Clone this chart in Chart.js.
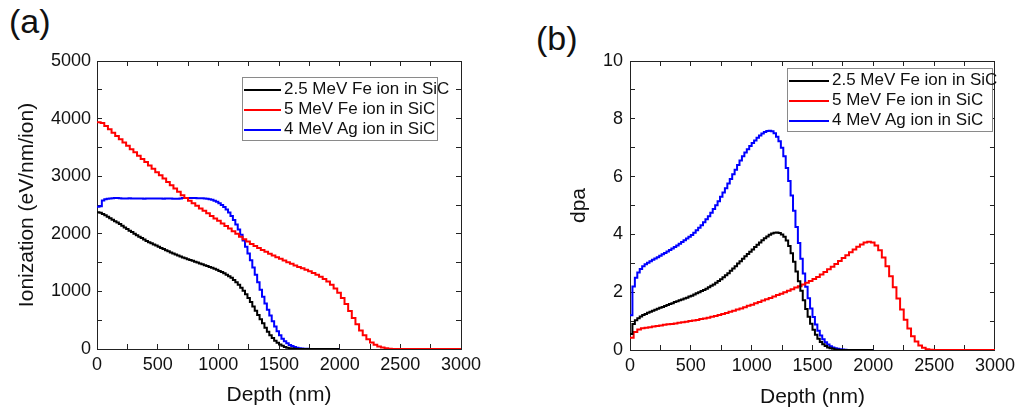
<!DOCTYPE html>
<html>
<head>
<meta charset="utf-8">
<script src="https://cdn.jsdelivr.net/npm/chart.js@4.4.1/dist/chart.umd.min.js"></script>
<style>
  body { margin: 0; background: #fff; width: 1025px; height: 410px; position: relative; overflow: hidden;
         font-family: "Liberation Sans", Arial, sans-serif; color: #111; }
  canvas { position: absolute; top: 0; }
  .tag { position: absolute; font-size: 34px; line-height: 34px; }
  .legend { position: absolute; border: 1px solid #8a8a8a; background: #fff; padding: 1px 0 1px 1px; font-size: 17px; }
  .legend div { height: 20px; line-height: 20px; white-space: nowrap; }
  .legend .swatch { display: inline-block; height: 2px; vertical-align: middle; margin-right: 3px; }
</style>
</head>
<body>
<div class="tag" style="left:9px; top:4px;">(a)</div>
<div class="tag" style="left:536px; top:21px;">(b)</div>
<canvas id="ionChart" width="512" height="410" style="left:0px;"></canvas>
<canvas id="dpaChart" width="512" height="410" style="left:513px;"></canvas>
<div class="legend" id="ionLegend" style="left:242px; top:77px; width:193px;"></div>
<div class="legend" id="dpaLegend" style="left:787px; top:68px; width:203px;"></div>
<script>
// depth grids (nm): Fe 2.5 MeV and Ag use 20 nm bins, Fe 5 MeV uses 30 nm bins
const depthFine = Array.from({ length: 101 }, (_, i) => i * 20);
const depthCoarse = Array.from({ length: 101 }, (_, i) => i * 30);

const seriesNames = ['2.5 MeV Fe ion in SiC', '5 MeV Fe ion in SiC', '4 MeV Ag ion in SiC'];
const seriesColors = ['#000000', '#ff0000', '#0000ff'];

const depthTicks = [0, 500, 1000, 1500, 2000, 2500, 3000];
const ionTicks = [0, 1000, 2000, 3000, 4000, 5000];
const dpaTicks = [0, 2, 4, 6, 8, 10];

// (a) ionization, eV/nm/ion
const ionFe25 = [2375, 2365, 2345, 2320, 2295, 2270, 2245, 2220, 2195, 2170,
  2140, 2110, 2085, 2055, 2030, 2000, 1975, 1950, 1925, 1900,
  1875, 1855, 1835, 1815, 1795, 1775, 1755, 1735, 1715, 1695,
  1675, 1660, 1640, 1625, 1605, 1590, 1575, 1560, 1545, 1530,
  1515, 1500, 1485, 1470, 1455, 1440, 1425, 1410, 1395, 1375,
  1355, 1335, 1315, 1290, 1265, 1235, 1200, 1160, 1115, 1065,
  1010, 950, 885, 815, 740, 665, 590, 515, 445, 370,
  300, 240, 190, 145, 110, 80, 55, 36, 22, 13,
  7, 3, 1, 0, 0, 0, 0, 0, 0, 0,
  0, 0, 0, 0, 0, 0, 0, 0, 0, 0,
  0];
const ionFe5 = [3935, 3925, 3870, 3815, 3755, 3700, 3640, 3585, 3530, 3470,
  3415, 3355, 3300, 3245, 3185, 3130, 3070, 3015, 2960, 2900,
  2845, 2785, 2730, 2670, 2620, 2575, 2530, 2485, 2440, 2400,
  2355, 2310, 2265, 2225, 2180, 2135, 2090, 2045, 2000, 1950,
  1905, 1865, 1825, 1790, 1755, 1720, 1690, 1655, 1625, 1595,
  1565, 1535, 1505, 1480, 1450, 1425, 1400, 1375, 1350, 1320,
  1290, 1255, 1215, 1170, 1115, 1050, 975, 885, 780, 660,
  540, 430, 320, 240, 170, 115, 75, 45, 25, 12,
  5, 1, 0, 0, 0, 0, 0, 0, 0, 0,
  0, 0, 0, 0, 0, 0, 0, 0, 0, 0,
  0];
const ionAg4 = [2470, 2480, 2580, 2600, 2610, 2615, 2618, 2620, 2620, 2618,
  2615, 2612, 2614, 2616, 2613, 2612, 2615, 2614, 2612, 2610,
  2612, 2614, 2613, 2611, 2612, 2614, 2612, 2610, 2611, 2613,
  2612, 2610, 2608, 2610, 2615, 2620, 2622, 2621, 2620, 2620,
  2620, 2619, 2618, 2616, 2614, 2608, 2600, 2590, 2575, 2555,
  2530, 2500, 2465, 2420, 2370, 2310, 2240, 2160, 2075, 1985,
  1885, 1775, 1660, 1540, 1415, 1290, 1160, 1030, 905, 790,
  680, 580, 480, 390, 310, 240, 180, 135, 98, 70,
  50, 34, 22, 14, 8, 5, 3, 1, 0, 0,
  0, 0, 0, 0, 0, 0, 0, 0, 0, 0,
  0];

// (b) displacement damage, dpa
const dpaFe25 = [0.55, 0.9, 1.03, 1.1, 1.16, 1.21, 1.25, 1.29, 1.32, 1.36,
  1.39, 1.43, 1.46, 1.49, 1.52, 1.56, 1.59, 1.62, 1.66, 1.69,
  1.72, 1.75, 1.78, 1.81, 1.85, 1.88, 1.92, 1.96, 2.0, 2.04,
  2.08, 2.12, 2.17, 2.22, 2.27, 2.33, 2.39, 2.45, 2.52, 2.59,
  2.66, 2.74, 2.82, 2.9, 2.99, 3.07, 3.16, 3.24, 3.32, 3.4,
  3.48, 3.56, 3.64, 3.72, 3.8, 3.87, 3.93, 3.99, 4.03, 4.06,
  4.07, 4.05, 4.0, 3.92, 3.79, 3.6, 3.35, 3.05, 2.72, 2.38,
  2.05, 1.72, 1.42, 1.15, 0.91, 0.7, 0.53, 0.39, 0.28, 0.2,
  0.14, 0.09, 0.06, 0.04, 0.02, 0.01, 0, 0, 0, 0,
  0, 0, 0, 0, 0, 0, 0, 0, 0, 0,
  0];
const dpaFe5 = [0.42, 0.62, 0.71, 0.75, 0.77, 0.79, 0.81, 0.83, 0.85, 0.87,
  0.89, 0.9, 0.92, 0.94, 0.96, 0.98, 1.0, 1.02, 1.04, 1.07,
  1.09, 1.12, 1.15, 1.18, 1.21, 1.25, 1.28, 1.32, 1.36, 1.4,
  1.44, 1.48, 1.53, 1.57, 1.62, 1.66, 1.71, 1.76, 1.8, 1.85,
  1.9, 1.95, 2.0, 2.05, 2.1, 2.16, 2.21, 2.27, 2.33, 2.39,
  2.46, 2.53, 2.61, 2.7, 2.79, 2.88, 2.98, 3.08, 3.18, 3.28,
  3.38, 3.48, 3.57, 3.65, 3.72, 3.75, 3.72, 3.62, 3.45, 3.2,
  2.9, 2.55, 2.17, 1.78, 1.4, 1.05, 0.74, 0.48, 0.29, 0.16,
  0.08, 0.03, 0.01, 0, 0, 0, 0, 0, 0, 0,
  0, 0, 0, 0, 0, 0, 0, 0, 0, 0,
  0];
const dpaAg4 = [1.2, 2.2, 2.5, 2.68, 2.8, 2.9, 2.97, 3.02, 3.07, 3.12,
  3.17, 3.21, 3.26, 3.31, 3.36, 3.41, 3.46, 3.51, 3.56, 3.62,
  3.68, 3.74, 3.8, 3.86, 3.92, 3.98, 4.06, 4.14, 4.23, 4.32,
  4.42, 4.52, 4.63, 4.75, 4.88, 5.01, 5.15, 5.3, 5.45, 5.6,
  5.76, 5.92, 6.08, 6.24, 6.4, 6.56, 6.7, 6.83, 6.95, 7.06,
  7.16, 7.25, 7.34, 7.42, 7.49, 7.54, 7.58, 7.59, 7.57, 7.5,
  7.38, 7.22, 7.0, 6.7, 6.3, 5.85, 5.35, 4.82, 4.26, 3.7,
  3.16, 2.65, 2.19, 1.79, 1.44, 1.14, 0.88, 0.67, 0.5, 0.37,
  0.27, 0.19, 0.13, 0.09, 0.06, 0.04, 0.03, 0.02, 0.01, 0,
  0, 0, 0, 0, 0, 0, 0, 0, 0, 0,
  0];

Chart.defaults.font.family = '"Liberation Sans", Arial, sans-serif';
Chart.defaults.color = '#111';

// inward tick marks, frame on all four sides (origin style)
const tickGrid = { drawOnChartArea: false, drawTicks: true, tickLength: -5, tickColor: '#222', tickWidth: 1 };
const frame = { display: true, color: '#222', width: 1 };

function makePanel(id, o) {
  const depths = [depthFine, depthCoarse, depthFine];
  return new Chart(document.getElementById(id), {
    type: 'line',
    data: {
      datasets: o.series.map((vals, i) => ({
        label: seriesNames[i],
        data: vals.map((v, k) => ({ x: depths[i][k], y: v })),
        borderColor: seriesColors[i],
        borderWidth: 2,
        pointRadius: 0,
        stepped: true,
        fill: false
      }))
    },
    options: {
      responsive: false,
      animation: false,
      layout: { padding: { left: 0, top: 61, right: o.padRight, bottom: 0 } },
      plugins: { legend: { display: false }, tooltip: { enabled: false } },
      scales: {
        x: {
          type: 'linear', position: 'bottom', min: 0, max: 3000,
          ticks: { stepSize: 250, autoSkip: false, maxRotation: 0, padding: 10, font: { size: 18 },
                   callback: v => depthTicks.includes(v) ? String(v) : '' },
          grid: tickGrid, border: frame,
          title: { display: true, text: 'Depth (nm)', font: { size: 21 }, padding: { top: 0, bottom: o.xTitlePad } },
          afterFit: s => { s.height = o.xHeight; }
        },
        xTop: {
          type: 'linear', position: 'top', min: 0, max: 3000,
          ticks: { stepSize: 250, display: false },
          grid: tickGrid, border: frame,
          afterFit: s => { s.height = 0; }
        },
        y: {
          type: 'linear', position: 'left', min: 0, max: o.yMax,
          ticks: { stepSize: o.yStep, autoSkip: false, padding: o.yTickPad, font: { size: 18 },
                   callback: v => o.yTicks.includes(v) ? String(v) : '' },
          grid: tickGrid, border: frame,
          title: { display: true, text: o.yTitle, font: { size: 21 }, padding: { top: o.yTitlePad, bottom: 0 } },
          afterFit: s => { s.width = o.yWidth; }
        },
        yRight: {
          type: 'linear', position: 'right', min: 0, max: o.yMax,
          ticks: { stepSize: o.yStep, display: false },
          grid: tickGrid, border: frame,
          afterFit: s => { s.width = 0; }
        }
      }
    }
  });
}

function buildLegend(chart, box, lineWidth) {
  chart.data.datasets.forEach(ds => {
    const row = document.createElement('div');
    const sw = document.createElement('span');
    sw.className = 'swatch';
    sw.style.width = lineWidth + 'px';
    sw.style.background = ds.borderColor;
    row.appendChild(sw);
    row.appendChild(document.createTextNode(ds.label));
    box.appendChild(row);
  });
}

const ionChart = makePanel('ionChart', {
  series: [ionFe25, ionFe5, ionAg4],
  yMax: 5000, yStep: 500, yTicks: ionTicks, yTitle: 'Ionization (eV/nm/ion)',
  yWidth: 97, yTickPad: 11, yTitlePad: 15, xHeight: 61, xTitlePad: 2, padRight: 51
});
const dpaChart = makePanel('dpaChart', {
  series: [dpaFe25, dpaFe5, dpaAg4],
  yMax: 10, yStep: 1, yTicks: dpaTicks, yTitle: 'dpa',
  yWidth: 117, yTickPad: 12, yTitlePad: 54, xHeight: 60, xTitlePad: 0, padRight: 25
});

buildLegend(ionChart, document.getElementById('ionLegend'), 37);
buildLegend(dpaChart, document.getElementById('dpaLegend'), 40);
</script>
</body>
</html>
